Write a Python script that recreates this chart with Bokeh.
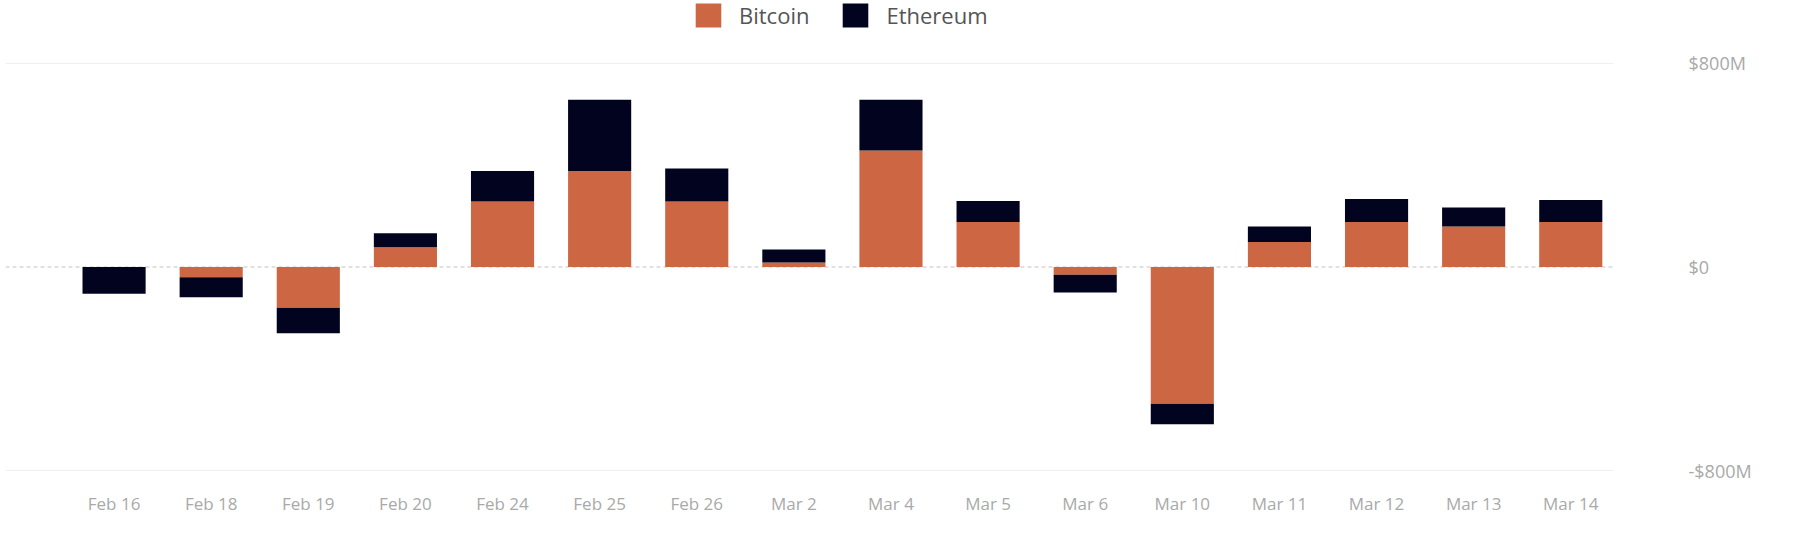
from bokeh.plotting import figure
from bokeh.models import Range1d, FixedTicker, Span, Legend, LegendItem
from bokeh.embed import file_html
from bokeh.resources import INLINE

dates = ["Feb 16", "Feb 18", "Feb 19", "Feb 20", "Feb 24", "Feb 25", "Feb 26", "Mar 2",
         "Mar 4", "Mar 5", "Mar 6", "Mar 10", "Mar 11", "Mar 12", "Mar 13", "Mar 14"]
bitcoin = [0, -40, -160, 78, 257, 377, 257, 18, 458, 177, -30, -537, 98, 177, 159, 177]
ethereum = [-105, -79, -100, 55, 120, 280, 130, 51, 199, 82, -70, -81, 61, 90, 75, 86]
y_ticks = [-800, 0, 800]
y_tick_labels = ["-$800M", "$0", "$800M"]

BTC_COLOR = "#CD6642"
ETH_COLOR = "#02041F"
FONT = "Open Sans"

xs = list(range(len(dates)))
btc_bottom = [0] * len(dates)
btc_top = bitcoin
eth_bottom = bitcoin
eth_top = [b + e for b, e in zip(bitcoin, ethereum)]

p = figure(width=1784, height=543, output_backend="svg", toolbar_location=None,
           x_range=Range1d(-1.118, 15.44), y_range=Range1d(-830.7, 1046.7),
           y_axis_location="right", min_border_left=5, min_border_top=0,
           min_border_right=171, min_border_bottom=65)
p.outline_line_color = None
p.background_fill_color = "white"
p.border_fill_color = "white"

zero = Span(location=0, dimension="width", line_color="#c4c4c4", line_width=1.2,
            line_dash="4 3", level="underlay")
p.add_layout(zero)

r_btc = p.vbar(x=xs, bottom=btc_bottom, top=btc_top, width=0.65,
               fill_color=BTC_COLOR, line_color=None)
r_eth = p.vbar(x=xs, bottom=eth_bottom, top=eth_top, width=0.65,
               fill_color=ETH_COLOR, line_color=None)

# axes
p.xaxis.ticker = FixedTicker(ticks=xs)
p.xaxis.major_label_overrides = {i: d for i, d in enumerate(dates)}
p.yaxis.ticker = FixedTicker(ticks=y_ticks)
p.yaxis.major_label_overrides = {t: l for t, l in zip(y_ticks, y_tick_labels)}
for ax in (p.xaxis[0], p.yaxis[0]):
    ax.axis_line_color = None
    ax.major_tick_line_color = None
    ax.minor_tick_line_color = None
    ax.major_label_text_color = "#a9a9a9"
    ax.major_label_text_font = FONT
p.xaxis.major_label_text_font_size = "17px"
p.yaxis.major_label_text_font_size = "18px"
p.xaxis.major_label_standoff = 7
p.yaxis.major_label_standoff = 69

p.xgrid.grid_line_color = None
p.ygrid.ticker = FixedTicker(ticks=[-800, 800])
p.ygrid.grid_line_color = "#efefef"
p.ygrid.grid_line_width = 1

legend = Legend(items=[LegendItem(label="Bitcoin", renderers=[r_btc]),
                       LegendItem(label="Ethereum", renderers=[r_eth])],
                orientation="horizontal", location=(687, 448),
                padding=0, margin=0, spacing=30, label_standoff=15,
                glyph_width=32, glyph_height=30,
                label_text_font=FONT, label_text_font_size="22px",
                label_text_color="#555555", border_line_color=None,
                background_fill_alpha=0)
p.add_layout(legend, "center")

open("out.html", "w").write(file_html(p, INLINE))
